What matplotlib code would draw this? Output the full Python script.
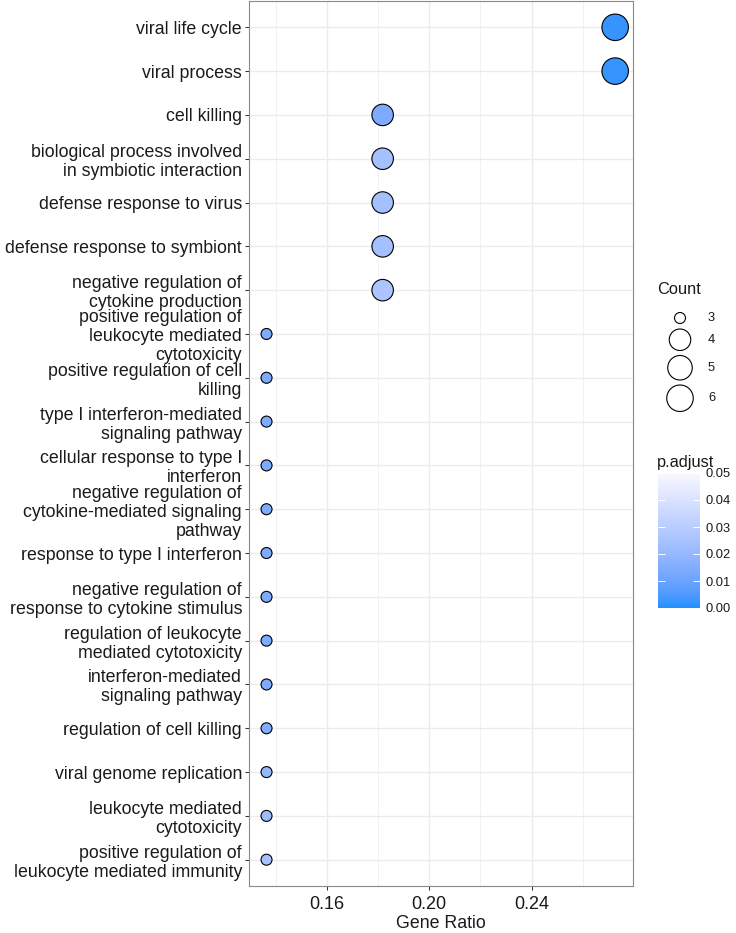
import numpy as np
import matplotlib
matplotlib.use("Agg")
import matplotlib.pyplot as plt
from matplotlib.colors import ListedColormap, Normalize
from matplotlib.cm import ScalarMappable

plt.rcParams["font.family"] = ["Liberation Sans", "DejaVu Sans"]

# ---------------- data ----------------
terms = [
    "viral life cycle",
    "viral process",
    "cell killing",
    "biological process involved\nin symbiotic interaction",
    "defense response to virus",
    "defense response to symbiont",
    "negative regulation of\ncytokine production",
    "positive regulation of\nleukocyte mediated\ncytotoxicity",
    "positive regulation of cell\nkilling",
    "type I interferon-mediated\nsignaling pathway",
    "cellular response to type I\ninterferon",
    "negative regulation of\ncytokine-mediated signaling\npathway",
    "response to type I interferon",
    "negative regulation of\nresponse to cytokine stimulus",
    "regulation of leukocyte\nmediated cytotoxicity",
    "interferon-mediated\nsignaling pathway",
    "regulation of cell killing",
    "viral genome replication",
    "leukocyte mediated\ncytotoxicity",
    "positive regulation of\nleukocyte mediated immunity",
]
counts = [6, 6, 4, 4, 4, 4, 4, 3, 3, 3, 3, 3, 3, 3, 3, 3, 3, 3, 3, 3]
gene_ratio = [0.2727, 0.2727, 0.1818, 0.1818, 0.1818, 0.1818, 0.1818,
              0.1364, 0.1364, 0.1364, 0.1364, 0.1364, 0.1364, 0.1364,
              0.1364, 0.1364, 0.1364, 0.1364, 0.1364, 0.1364]
p_adjust = [0.002, 0.002, 0.014, 0.024, 0.024, 0.024, 0.026,
            0.014, 0.014, 0.014, 0.014, 0.014, 0.014, 0.014,
            0.014, 0.014, 0.015, 0.020, 0.022, 0.025]

legend_counts = [3, 4, 5, 6]
p_ticks = [0.00, 0.01, 0.02, 0.03, 0.04, 0.05]
x_ticks = [0.16, 0.20, 0.24]
x_minor = [0.14, 0.18, 0.22, 0.26]

# ---------------- scales ----------------
size_px = {3: 11.0, 4: 21.5, 5: 24.5, 6: 26.5}   # marker diameter in pixels
def area(c):
    return (size_px[c] * 0.72) ** 2


def srgb_to_lab(rgb):
    c = np.asarray(rgb, float)
    lin = np.where(c <= 0.04045, c / 12.92, ((c + 0.055) / 1.055) ** 2.4)
    M = np.array([[0.4124564, 0.3575761, 0.1804375],
                  [0.2126729, 0.7151522, 0.0721750],
                  [0.0193339, 0.1191920, 0.9503041]])
    xyz = M @ lin / np.array([0.95047, 1.0, 1.08883])
    d = 6 / 29
    f = np.where(xyz > d ** 3, np.cbrt(xyz), xyz / (3 * d * d) + 4 / 29)
    return np.array([116 * f[1] - 16, 500 * (f[0] - f[1]), 200 * (f[1] - f[2])])


def lab_to_srgb(lab):
    L, a, b = lab
    fy_ = (L + 16) / 116
    fx_ = fy_ + a / 500
    fz_ = fy_ - b / 200
    d = 6 / 29
    f = np.array([fx_, fy_, fz_])
    xyz = np.where(f > d, f ** 3, 3 * d * d * (f - 4 / 29)) * np.array([0.95047, 1.0, 1.08883])
    Minv = np.array([[3.2404542, -1.5371385, -0.4985314],
                     [-0.9692660, 1.8760108, 0.0415560],
                     [0.0556434, -0.2040259, 1.0572252]])
    lin = np.clip(Minv @ xyz, 0, 1)
    c = np.where(lin <= 0.0031308, 12.92 * lin, 1.055 * lin ** (1 / 2.4) - 0.055)
    return np.clip(c, 0, 1)


low = np.array([0x1E, 0x90, 0xFF]) / 255
high = np.array([0xF8, 0xF8, 0xFF]) / 255
lab_lo, lab_hi = srgb_to_lab(low), srgb_to_lab(high)
cols = [lab_to_srgb(lab_lo + t * (lab_hi - lab_lo)) for t in np.linspace(0, 1, 256)]
cmap = ListedColormap(cols)
norm = Normalize(vmin=0.0, vmax=0.05)

# ---------------- figure ----------------
W, H = 736, 933
fig = plt.figure(figsize=(W / 100, H / 100), dpi=100)

def fx(px):
    return px / W

def fy(py):
    return 1 - py / H

ax = fig.add_axes([fx(249), fy(886), fx(632.7) - fx(249), fy(1) - fy(886)])
ypos = np.arange(len(terms))
ax.scatter(gene_ratio, ypos, s=[area(c) for c in counts], c=p_adjust, cmap=cmap,
           norm=norm, edgecolors="black", linewidths=0.8, zorder=3)

ax.set_xlim(0.12955, 0.27955)
ax.set_ylim(len(terms) - 1 + 0.6, -0.6)
ax.set_yticks(ypos)
ax.set_yticklabels(terms, fontsize=12.8, color="#1a1a1a", linespacing=1.15)
ax.set_xticks(x_ticks)
ax.set_xticklabels([f"{v:.2f}" for v in x_ticks], fontsize=13, color="#1a1a1a")
ax.set_xticks(x_minor, minor=True)
ax.tick_params(axis="both", which="major", length=3, width=0.75, color="#333333", pad=2)
ax.tick_params(axis="x", which="major", pad=4)
ax.tick_params(axis="x", which="minor", length=0)
ax.grid(True, which="major", color="#EBEBEB", linewidth=1.0, zorder=0)
ax.grid(True, which="minor", axis="x", color="#EBEBEB", linewidth=0.5, zorder=0)
ax.set_axisbelow(True)
for sp in ax.spines.values():
    sp.set_color("#8a8a8a")
    sp.set_linewidth(0.8)
ax.set_xlabel("Gene Ratio", fontsize=12.8, color="#1a1a1a", labelpad=1.5)

# ---------------- Count legend ----------------
fig.text(fx(657), fy(290), "Count", fontsize=11.8, color="#1a1a1a", ha="left", va="center")
key_h = [max(17.0, size_px[c] + 5.0) for c in legend_counts]
centers = []
acc = 0.0
for h in key_h:
    centers.append(acc + h / 2)
    acc += h
top_px = 318 - centers[0]
lax = fig.add_axes([fx(658), fy(top_px + acc), fx(736) - fx(658), fy(top_px) - fy(top_px + acc)])
lax.set_xlim(0, 78)
lax.set_ylim(acc, 0)
lax.scatter([22] * len(legend_counts), centers, s=[area(c) for c in legend_counts],
            facecolors="white", edgecolors="black", linewidths=0.8)
for c, y in zip(legend_counts, centers):
    lax.text(50, y, str(c), fontsize=9.3, color="#1a1a1a", ha="left", va="center")
lax.axis("off")

# ---------------- p.adjust colorbar ----------------
fig.text(fx(657), fy(463), "p.adjust", fontsize=11.8, color="#1a1a1a", ha="left", va="center")
cax = fig.add_axes([fx(658), fy(608), fx(700) - fx(658), fy(473) - fy(608)])
cb = fig.colorbar(ScalarMappable(norm=norm, cmap=cmap), cax=cax, ticks=p_ticks)
cb.outline.set_visible(False)
cb.set_ticklabels([f"{v:.2f}" for v in p_ticks])
cax.tick_params(axis="y", which="major", left=True, right=True, direction="in",
                color="white", length=5, width=0.7, labelsize=9.3,
                labelcolor="#1a1a1a", pad=4)
cax.minorticks_off()

fig.savefig("out.png", dpi=100)
